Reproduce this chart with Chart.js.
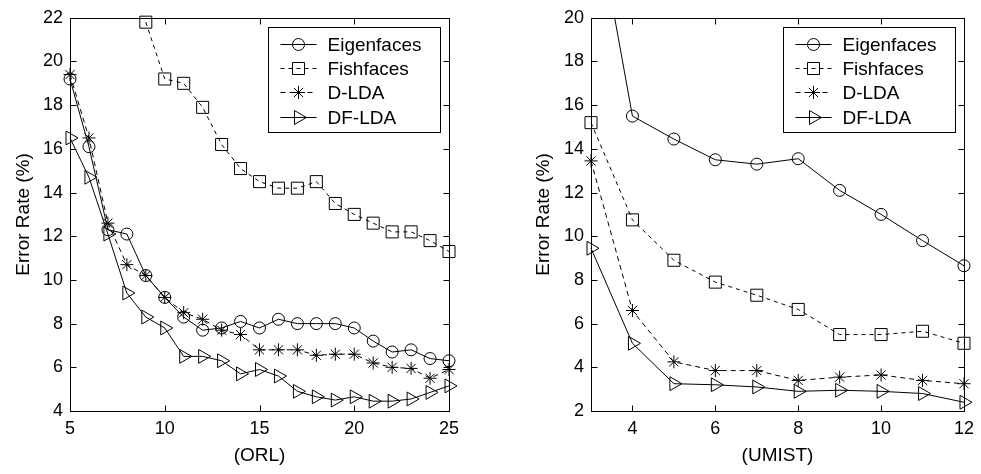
<!DOCTYPE html>
<html lang="en">
<head>
    <meta charset="UTF-8">
    <title>Error Rate (ORL / UMIST)</title>
    <script src="https://cdn.jsdelivr.net/npm/chart.js"></script>
    <style>
        body {
            margin: 0;
            background: #fff;
        }
        canvas {
            position: absolute;
            top: 0;
        }
    </style>
</head>
<body>
    <canvas id="orlChart" width="490" height="474" style="left:0px"></canvas>
    <canvas id="umistChart" width="491" height="474" style="left:490px"></canvas>

    <script>
        // ORL panel
        const orlX = [5, 6, 7, 8, 9, 10, 11, 12, 13, 14, 15, 16, 17, 18, 19, 20, 21, 22, 23, 24, 25];
        const orlEigen = [19.2, 16.1, 12.3, 12.1, 10.2, 9.2, 8.3, 7.7, 7.8, 8.1, 7.8, 8.2, 8.0, 8.0, 8.0, 7.8, 7.2, 6.7, 6.8, 6.4, 6.3];
        const orlFisher = [null, null, null, null, 21.8, 19.2, 19.0, 17.9, 16.2, 15.1, 14.5, 14.2, 14.2, 14.5, 13.5, 13.0, 12.6, 12.2, 12.2, 11.8, 11.3];
        const orlDLDA = [19.4, 16.5, 12.6, 10.7, 10.2, 9.2, 8.5, 8.2, 7.7, 7.5, 6.8, 6.8, 6.8, 6.55, 6.6, 6.6, 6.2, 6.0, 5.95, 5.5, 5.9];
        const orlDFLDA = [16.5, 14.7, 12.1, 9.4, 8.3, 7.8, 6.5, 6.5, 6.3, 5.7, 5.9, 5.6, 4.9, 4.65, 4.5, 4.65, 4.45, 4.45, 4.55, 4.85, 5.15];
        const orlXTicks = [5, 10, 15, 20, 25];
        const orlYTicks = [4, 6, 8, 10, 12, 14, 16, 18, 20, 22];

        // UMIST panel
        const umistX = [3, 4, 5, 6, 7, 8, 9, 10, 11, 12];
        const umistEigen = [26, 15.5, 14.45, 13.5, 13.3, 13.55, 12.1, 11.0, 9.8, 8.65];
        const umistFisher = [15.2, 10.75, 8.9, 7.9, 7.3, 6.65, 5.5, 5.5, 5.65, 5.1];
        const umistDLDA = [13.45, 6.6, 4.25, 3.85, 3.85, 3.4, 3.55, 3.65, 3.4, 3.25];
        const umistDFLDA = [9.45, 5.1, 3.25, 3.2, 3.1, 2.9, 2.95, 2.9, 2.8, 2.4];
        const umistXTicks = [4, 6, 8, 10, 12];
        const umistYTicks = [2, 4, 6, 8, 10, 12, 14, 16, 18, 20];

        const seriesNames = ['Eigenfaces', 'Fishfaces', 'D-LDA', 'DF-LDA'];

        const FONT = 'Liberation Sans, Arial, Helvetica, sans-serif';

        // marker / line look for each method, MATLAB style
        const styles = [
            { pointStyle: 'circle', pointRadius: 6, rotation: 0, dash: [] },
            { pointStyle: 'rect', pointRadius: 8.5, rotation: 0, dash: [4, 4] },
            { pointStyle: 'star', pointRadius: 6.5, rotation: 0, dash: [5, 4] },
            { pointStyle: 'triangle', pointRadius: 8, rotation: 90, dash: [] }
        ];

        function toPoints(xs, ys) {
            return xs.map((x, i) => ({ x: x, y: ys[i] }));
        }

        function makeDataset(i, xs, ys, clipTop) {
            const s = styles[i];
            return {
                label: seriesNames[i],
                data: toPoints(xs, ys),
                borderColor: '#000',
                borderWidth: 1,
                borderDash: s.dash,
                backgroundColor: 'transparent',
                pointStyle: s.pointStyle,
                pointRadius: s.pointRadius,
                pointRotation: s.rotation,
                pointBorderColor: '#000',
                pointBackgroundColor: 'transparent',
                pointBorderWidth: 1,
                tension: 0,
                spanGaps: false,
                clip: { left: 12, right: 12, bottom: 12, top: clipTop }
            };
        }

        // box around the plot, inward ticks on all four sides, and the boxed legend
        const matlabFrame = {
            id: 'matlabFrame',
            afterDatasetsDraw(chart) {
                const ctx = chart.ctx;
                const a = chart.chartArea;
                const xs = chart.scales.x;
                const ys = chart.scales.y;
                const L = Math.round(a.left) + 0.5, R = Math.round(a.right) + 0.5;
                const T = Math.round(a.top) + 0.5, B = Math.round(a.bottom) + 0.5;
                ctx.save();
                ctx.strokeStyle = '#000';
                ctx.lineWidth = 1;
                ctx.setLineDash([]);
                ctx.strokeRect(L, T, R - L, B - T);
                ctx.beginPath();
                xs.ticks.forEach(t => {
                    const px = Math.round(xs.getPixelForValue(t.value)) + 0.5;
                    ctx.moveTo(px, B); ctx.lineTo(px, B - 6);
                    ctx.moveTo(px, T); ctx.lineTo(px, T + 6);
                });
                ys.ticks.forEach(t => {
                    const py = Math.round(ys.getPixelForValue(t.value)) + 0.5;
                    ctx.moveTo(L, py); ctx.lineTo(L + 6, py);
                    ctx.moveTo(R, py); ctx.lineTo(R - 6, py);
                });
                ctx.stroke();

                // legend box
                const w = 172, h = 105;
                const bx = Math.round(a.right - 9 - w) + 0.5;
                const by = Math.round(a.top + 9) + 0.5;
                ctx.fillStyle = '#fff';
                ctx.fillRect(bx, by, w, h);
                ctx.strokeRect(bx, by, w, h);
                ctx.font = '19px ' + FONT;
                ctx.textBaseline = 'middle';
                ctx.textAlign = 'left';
                chart.data.datasets.forEach((ds, i) => {
                    const cy = Math.round(by + 16 + i * 24.4) + 0.5;
                    ctx.beginPath();
                    ctx.setLineDash(styles[i].dash);
                    ctx.moveTo(bx + 12, cy);
                    ctx.lineTo(bx + 48, cy);
                    ctx.stroke();
                    ctx.setLineDash([]);
                    ctx.fillStyle = 'rgba(0,0,0,0)';
                    Chart.helpers.drawPoint(ctx, {
                        pointStyle: styles[i].pointStyle,
                        radius: styles[i].pointRadius,
                        rotation: styles[i].rotation,
                        borderWidth: 1
                    }, bx + 30, cy);
                    ctx.fillStyle = '#000';
                    ctx.fillText(ds.label, bx + 59, cy + 1);
                });
                ctx.restore();
            }
        };

        function makeChart(canvasId, datasets, xMin, xMax, xTicks, yMin, yMax, yTicks, axisWidth, rightPad, yTitlePad, xTitle) {
            const ctx = document.getElementById(canvasId).getContext('2d');
            return new Chart(ctx, {
                type: 'line',
                data: { datasets: datasets },
                options: {
                    responsive: false,
                    animation: false,
                    devicePixelRatio: 1,
                    layout: { padding: { top: 16, right: rightPad, bottom: 0, left: 0 } },
                    plugins: {
                        legend: { display: false },
                        tooltip: { enabled: false }
                    },
                    scales: {
                        x: {
                            type: 'linear',
                            min: xMin,
                            max: xMax,
                            afterBuildTicks: scale => { scale.ticks = xTicks.map(v => ({ value: v })); },
                            afterFit: scale => { scale.height = 63; },
                            grid: { display: false, drawTicks: false },
                            border: { display: false },
                            ticks: {
                                color: '#000',
                                padding: 7,
                                maxRotation: 0,
                                font: { family: FONT, size: 18 }
                            },
                            title: {
                                display: true,
                                text: xTitle,
                                color: '#000',
                                padding: { top: 0, bottom: 7 },
                                font: { family: FONT, size: 19 }
                            }
                        },
                        y: {
                            min: yMin,
                            max: yMax,
                            afterBuildTicks: scale => { scale.ticks = yTicks.map(v => ({ value: v })); },
                            afterFit: scale => { scale.width = axisWidth; },
                            grid: { display: false, drawTicks: false },
                            border: { display: false },
                            ticks: {
                                color: '#000',
                                padding: 7,
                                font: { family: FONT, size: 18 }
                            },
                            title: {
                                display: true,
                                text: 'Error Rate (%)',
                                color: '#000',
                                padding: { top: yTitlePad, bottom: 0 },
                                font: { family: FONT, size: 19 }
                            }
                        }
                    }
                },
                plugins: [matlabFrame]
            });
        }

        makeChart('orlChart', [
            makeDataset(0, orlX, orlEigen, 8),
            makeDataset(1, orlX, orlFisher, 8),
            makeDataset(2, orlX, orlDLDA, 8),
            makeDataset(3, orlX, orlDFLDA, 8)
        ], 5, 25, orlXTicks, 4, 22, orlYTicks, 70, 41, 12, '(ORL)');

        makeChart('umistChart', [
            makeDataset(0, umistX, umistEigen, 0),
            makeDataset(1, umistX, umistFisher, 8),
            makeDataset(2, umistX, umistDLDA, 8),
            makeDataset(3, umistX, umistDFLDA, 8)
        ], 3, 12, umistXTicks, 2, 20, umistYTicks, 101, 13, 42, '(UMIST)');
    </script>
</body>
</html>
